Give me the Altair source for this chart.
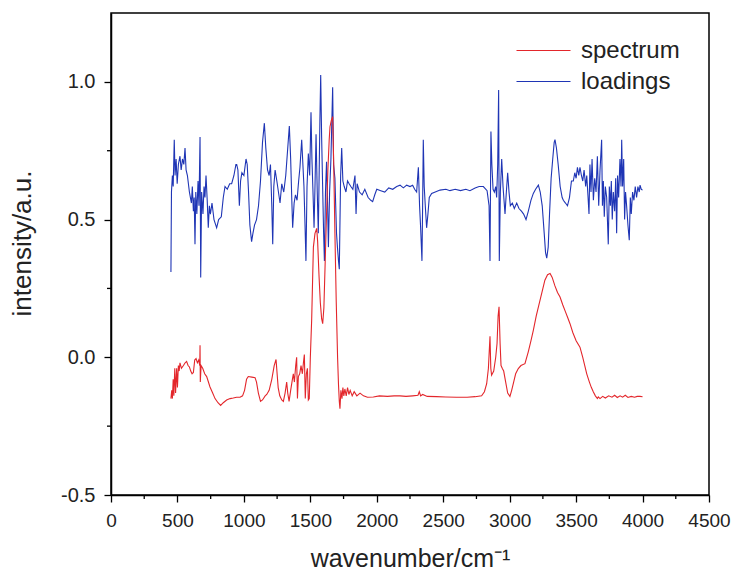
import altair as alt
import pandas as pd

# ---- data ----
load_x = [451, 455, 462, 468, 476, 482, 490, 498, 507, 519, 528, 538, 548, 557, 565, 575, 590, 605, 612, 620,
          626, 632, 638, 646, 655, 662, 670, 675, 682, 692, 700, 707, 715, 724, 732, 740, 748, 760, 775, 795,
          810, 830, 845, 858, 875, 893, 908, 925, 940, 946, 955, 966, 975, 985, 1000, 1016, 1025, 1035, 1045, 1058,
          1068, 1080, 1095, 1110, 1125, 1140, 1154, 1165, 1178, 1190, 1200, 1210, 1217, 1225, 1235, 1248, 1260, 1272, 1285, 1300,
          1315, 1330, 1342, 1352, 1360, 1367, 1378, 1388, 1400, 1412, 1422, 1435, 1442, 1452, 1460, 1467, 1475, 1485, 1495, 1505,
          1512, 1520, 1528, 1535, 1543, 1552, 1560, 1572, 1578, 1585, 1593, 1600, 1606, 1614, 1622, 1630, 1636, 1645, 1655, 1668,
          1675, 1685, 1697, 1704, 1712, 1718, 1728, 1736, 1745, 1755, 1768, 1780, 1792, 1805, 1820, 1836, 1844, 1852, 1870, 1890,
          1910, 1935, 1955, 1969, 1985, 2000, 2030, 2060, 2090, 2120, 2150, 2175, 2200, 2225, 2250, 2270, 2285, 2300, 2313, 2322,
          2330, 2340, 2345, 2350, 2357, 2365, 2375, 2385, 2395, 2413, 2440, 2476, 2520, 2551, 2590, 2630, 2670, 2701, 2740, 2770,
          2802, 2830, 2845, 2852, 2859, 2866, 2875, 2885, 2895, 2902, 2910, 2917, 2922, 2930, 2940, 2950, 2965, 2975, 2985, 2995,
          3005, 3020, 3035, 3053, 3070, 3090, 3105, 3123, 3140, 3160, 3178, 3195, 3216, 3230, 3245, 3260, 3270, 3279, 3290, 3300,
          3312, 3324, 3335, 3341, 3352, 3365, 3380, 3395, 3404, 3420, 3435, 3450, 3465, 3479, 3490, 3500, 3510, 3520, 3529, 3540,
          3550, 3560, 3572, 3580, 3590, 3597, 3604, 3612, 3620, 3630, 3640, 3650, 3660, 3670, 3680, 3692, 3698, 3705, 3712, 3720,
          3730, 3742, 3750, 3758, 3765, 3772, 3780, 3790, 3798, 3805, 3812, 3820, 3830, 3838, 3843, 3850, 3858, 3865, 3872, 3880,
          3890, 3900, 3908, 3915, 3925, 3935, 3945, 3955, 3965, 3975, 3981, 3990, 4000]
load_y = [0.31, 0.60, 0.66, 0.62, 0.79, 0.66, 0.72, 0.63, 0.70, 0.73, 0.68, 0.72, 0.70, 0.76, 0.68, 0.66, 0.60, 0.56, 0.62, 0.53,
          0.58, 0.41, 0.60, 0.52, 0.64, 0.55, 0.80, 0.29, 0.60, 0.52, 0.62, 0.58, 0.66, 0.57, 0.47, 0.55, 0.52, 0.56, 0.50, 0.47,
          0.50, 0.51, 0.58, 0.62, 0.61, 0.63, 0.63, 0.66, 0.70, 0.70, 0.68, 0.55, 0.64, 0.67, 0.66, 0.72, 0.70, 0.60, 0.48, 0.42,
          0.45, 0.48, 0.50, 0.55, 0.64, 0.78, 0.85, 0.76, 0.68, 0.66, 0.70, 0.55, 0.41, 0.62, 0.68, 0.64, 0.60, 0.56, 0.63, 0.60,
          0.66, 0.76, 0.84, 0.72, 0.58, 0.47, 0.56, 0.59, 0.57, 0.64, 0.69, 0.79, 0.72, 0.62, 0.48, 0.35, 0.62, 0.74, 0.66, 0.89,
          0.72, 0.60, 0.47, 0.62, 0.81, 0.60, 0.45, 0.86, 1.025, 0.80, 0.61, 0.45, 0.35, 0.60, 0.71, 0.55, 0.40, 0.60, 0.72, 0.98,
          0.70, 0.65, 0.45, 0.40, 0.35, 0.32, 0.66, 0.76, 0.64, 0.62, 0.60, 0.64, 0.63, 0.62, 0.61, 0.66, 0.52, 0.63, 0.60, 0.59,
          0.61, 0.58, 0.57, 0.565, 0.59, 0.61, 0.605, 0.60, 0.615, 0.61, 0.62, 0.625, 0.615, 0.625, 0.62, 0.625, 0.61, 0.60, 0.69, 0.55,
          0.47, 0.35, 0.55, 0.79, 0.62, 0.55, 0.47, 0.52, 0.58, 0.595, 0.60, 0.607, 0.61, 0.605, 0.61, 0.605, 0.61, 0.605, 0.615, 0.62,
          0.62, 0.605, 0.55, 0.35, 0.82, 0.70, 0.61, 0.60, 0.62, 0.58, 0.70, 0.97, 0.35, 0.60, 0.72, 0.62, 0.52, 0.60, 0.67, 0.60,
          0.55, 0.56, 0.54, 0.56, 0.54, 0.53, 0.52, 0.50, 0.53, 0.57, 0.595, 0.61, 0.625, 0.60, 0.55, 0.45, 0.38, 0.36, 0.40, 0.52,
          0.65, 0.72, 0.78, 0.79, 0.76, 0.70, 0.62, 0.58, 0.57, 0.56, 0.55, 0.58, 0.64, 0.64, 0.67, 0.65, 0.69, 0.66, 0.69, 0.66,
          0.64, 0.68, 0.62, 0.66, 0.58, 0.52, 0.70, 0.60, 0.72, 0.57, 0.65, 0.60, 0.73, 0.55, 0.68, 0.79, 0.55, 0.64, 0.51, 0.62,
          0.58, 0.41, 0.62, 0.55, 0.64, 0.50, 0.60, 0.53, 0.65, 0.45, 0.66, 0.58, 0.72, 0.62, 0.79, 0.62, 0.72, 0.50, 0.60, 0.55,
          0.48, 0.425, 0.58, 0.52, 0.60, 0.57, 0.62, 0.58, 0.62, 0.60, 0.625, 0.61, 0.607]

spec_x = [451, 457, 462, 468, 473, 480, 486, 494, 500, 507, 513, 519, 530, 545, 558, 569, 580, 590, 600, 610,
          620, 630, 640, 650, 660, 668, 670, 672, 678, 690, 705, 720, 745, 765, 783, 805, 825, 845, 870, 896,
          920, 945, 971, 990, 1005, 1020, 1033, 1060, 1084, 1095, 1109, 1125, 1140, 1160, 1172, 1190, 1210, 1228, 1242, 1250,
          1258, 1270, 1285, 1297, 1310, 1322, 1330, 1340, 1352, 1365, 1372, 1380, 1390, 1397, 1403, 1410, 1420, 1430, 1440, 1448,
          1455, 1462, 1470, 1478, 1485, 1492, 1500, 1510, 1518, 1523, 1535, 1548, 1555, 1565, 1575, 1585, 1593, 1602, 1612, 1622,
          1632, 1642, 1648, 1658, 1668, 1676, 1685, 1695, 1705, 1712, 1718, 1723, 1730, 1738, 1745, 1752, 1760, 1770, 1780, 1790,
          1800, 1815, 1830, 1850, 1874, 1900, 1930, 1974, 2020, 2080, 2130, 2175, 2220, 2270, 2310, 2320, 2330, 2345, 2380, 2450,
          2520, 2600, 2680, 2740, 2789, 2810, 2827, 2840, 2852, 2858, 2864, 2880, 2895, 2905, 2913, 2920, 2928, 2935, 2945, 2955,
          2970, 2985, 3002, 3015, 3030, 3045, 3065, 3085, 3115, 3140, 3160, 3178, 3200, 3220, 3241, 3265, 3285, 3304, 3320, 3340,
          3360, 3379, 3400, 3420, 3440, 3454, 3475, 3500, 3529, 3550, 3565, 3580, 3600, 3615, 3630, 3645, 3660, 3667, 3680, 3700,
          3720, 3745, 3770, 3790, 3810, 3831, 3850, 3870, 3890, 3915, 3940, 3960, 3981, 4000]
spec_y = [-0.15, -0.12, -0.15, -0.08, -0.14, -0.04, -0.13, -0.04, -0.11, -0.03, -0.05, -0.02, -0.04, -0.03, -0.02, -0.015, -0.03, -0.035, -0.05, -0.06,
          -0.055, -0.01, -0.005, -0.02, -0.01, -0.03, 0.044, -0.09, -0.03, -0.04, -0.06, -0.07, -0.108, -0.13, -0.15, -0.165, -0.175, -0.165, -0.155, -0.15,
          -0.148, -0.145, -0.145, -0.14, -0.12, -0.08, -0.07, -0.072, -0.074, -0.09, -0.13, -0.16, -0.155, -0.14, -0.135, -0.12, -0.08, -0.03, -0.008, -0.06,
          -0.11, -0.14, -0.155, -0.16, -0.13, -0.09, -0.13, -0.16, -0.12, -0.08, -0.06, -0.09, -0.03, 0.0, -0.15, -0.07, -0.06, -0.03, -0.06, -0.02,
          0.01, -0.15, -0.06, -0.04, -0.155, -0.15, 0.0, 0.135, 0.30, 0.40, 0.45, 0.468, 0.42, 0.30, 0.20, 0.14, 0.122, 0.18, 0.35, 0.52,
          0.68, 0.79, 0.837, 0.86, 0.874, 0.70, 0.45, 0.20, 0.00, -0.10, -0.16, -0.187, -0.12, -0.15, -0.11, -0.14, -0.115, -0.14, -0.11, -0.135,
          -0.12, -0.14, -0.125, -0.14, -0.13, -0.14, -0.145, -0.144, -0.14, -0.142, -0.14, -0.14, -0.142, -0.14, -0.138, -0.125, -0.14, -0.135, -0.142, -0.143,
          -0.144, -0.145, -0.145, -0.143, -0.14, -0.125, -0.096, -0.04, 0.076, -0.04, -0.065, -0.05, 0.00, 0.05, 0.15, 0.183, 0.05, -0.03, -0.041, -0.05,
          -0.09, -0.13, -0.142, -0.12, -0.09, -0.06, -0.041, -0.03, -0.023, 0.02, 0.06, 0.098, 0.15, 0.19, 0.232, 0.28, 0.300, 0.304, 0.29, 0.26,
          0.235, 0.219, 0.19, 0.165, 0.14, 0.122, 0.09, 0.06, 0.037, 0.00, -0.03, -0.06, -0.09, -0.11, -0.126, -0.14, -0.15, -0.144, -0.15, -0.142,
          -0.148, -0.14, -0.145, -0.138, -0.146, -0.14, -0.145, -0.138, -0.146, -0.142, -0.145, -0.142, -0.142, -0.143]

series_names = ["spectrum", "loadings"]
series_colors = ["#e3262b", "#1f35b5"]
x_ticks = [0, 500, 1000, 1500, 2000, 2500, 3000, 3500, 4000, 4500]
x_minor = [250, 750, 1250, 1750, 2250, 2750, 3250, 3750, 4250]
y_ticks = [-0.5, 0.0, 0.5, 1.0]
y_minor = [-0.25, 0.25, 0.75]

df_load = pd.DataFrame({"x": load_x, "y": load_y, "series": "loadings"})
df_spec = pd.DataFrame({"x": spec_x, "y": spec_y, "series": "spectrum"})

W, H = 598, 482
FONT = "Liberation Sans"
TXT = "#222"

xs = alt.Scale(domain=[0, 4500], nice=False, zero=False)
ys = alt.Scale(domain=[-0.5, 1.25], nice=False, zero=False)
cs = alt.Scale(domain=series_names, range=series_colors)

common = dict(grid=False, tickSize=7, labelFont=FONT, labelColor=TXT, labelFlush=False,
              titleFont=FONT, titleColor=TXT, titleFontWeight="normal",
              domainColor="black", domainWidth=1.5, tickColor="black", tickWidth=1.3)

xaxis = alt.Axis(values=x_ticks, format="d", title="wavenumber/cm⁻¹",
                 labelPadding=9, labelFontSize=19, titleFontSize=25, titlePadding=16, **common)
yaxis = alt.Axis(values=y_ticks, title="intensity/a.u.",
                 labelExpr="datum.value < 0 ? '-' + format(-datum.value, '.1f') : format(datum.value, '.1f')",
                 labelPadding=9, labelFontSize=20, titleFontSize=26, titlePadding=25, titleY=230, **common)

# long horizontal stroke symbol with a compact nominal size, so rows stay tight
legend = alt.Legend(title=None, orient="none", legendX=418, legendY=23, symbolType="M-2,0H2",
                    symbolSize=729, symbolStrokeWidth=1.2, symbolFillColor="transparent",
                    labelFontSize=24, labelFont=FONT, labelColor=TXT, rowPadding=4, labelOffset=23)

def line_layer(df):
    return alt.Chart(df).mark_line(strokeWidth=1.1, clip=True).encode(
        x=alt.X("x:Q", scale=xs, axis=xaxis),
        y=alt.Y("y:Q", scale=ys, axis=yaxis),
        color=alt.Color("series:N", scale=cs, legend=legend),
        order=alt.Order("x:Q"),
    )

blue = line_layer(df_load)
red = line_layer(df_spec)

xmin = alt.Chart(pd.DataFrame({"x": x_minor})).mark_rule(color="black", strokeWidth=1.3).encode(
    x=alt.X("x:Q", scale=xs), y=alt.value(H), y2=alt.value(H + 4))
ymin = alt.Chart(pd.DataFrame({"y": y_minor})).mark_rule(color="black", strokeWidth=1.3).encode(
    y=alt.Y("y:Q", scale=ys), x=alt.value(0), x2=alt.value(-4))

chart = alt.layer(blue, red, xmin, ymin).properties(
    width=W, height=H,
    background="white",
    autosize=alt.AutoSizeParams(type="none"),
    padding={"left": 111, "top": 13, "right": 27, "bottom": 80},
).configure_view(
    stroke="black", strokeWidth=1.5
)

chart.save("out.html", embed_options={"renderer": "svg", "actions": False})
